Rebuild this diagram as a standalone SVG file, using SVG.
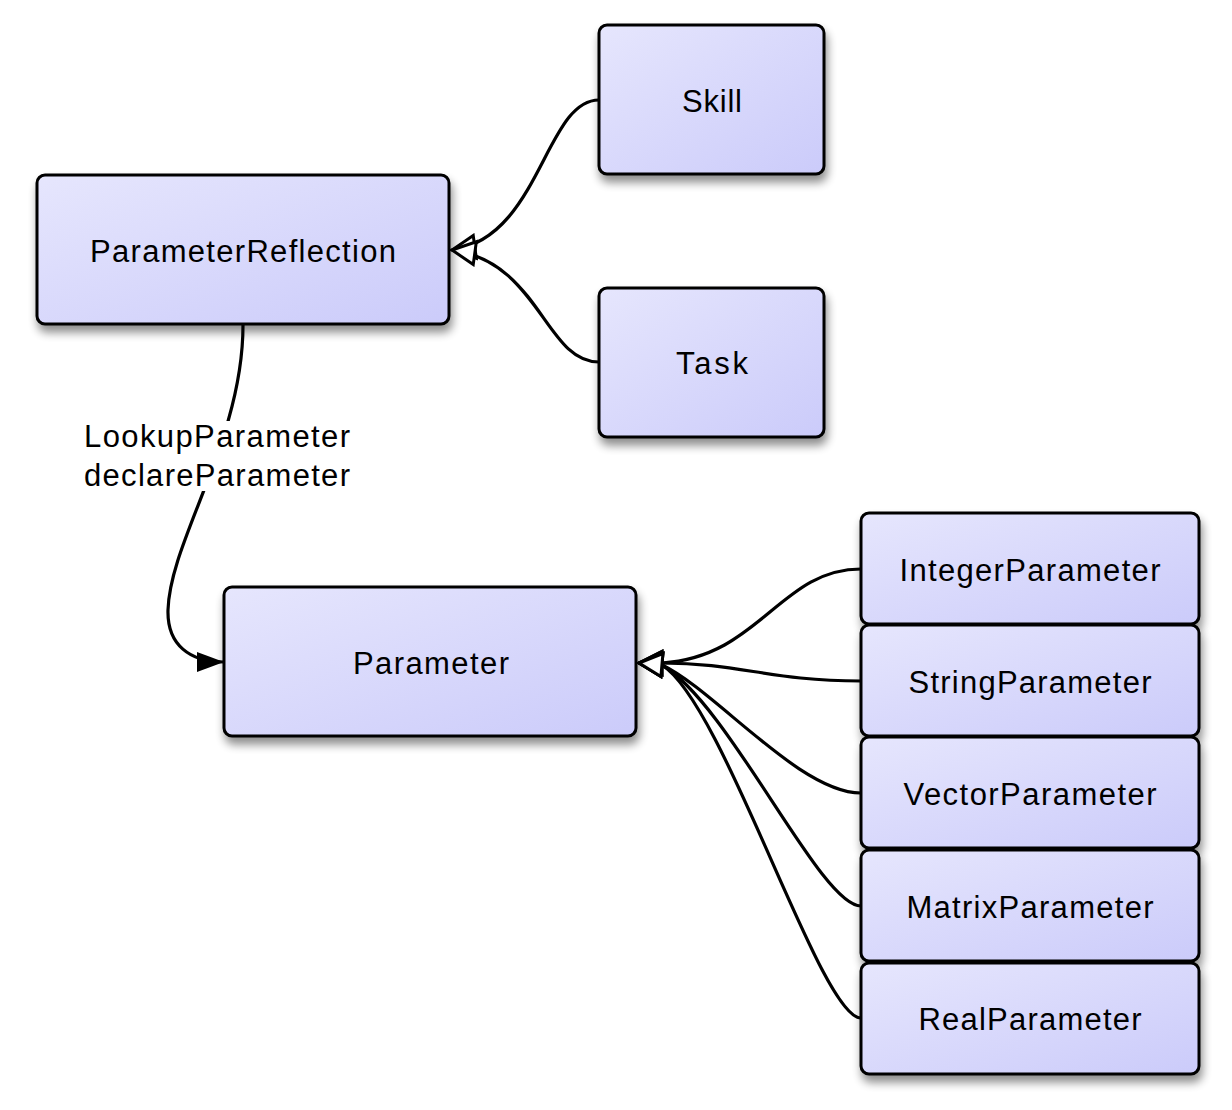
<svg xmlns="http://www.w3.org/2000/svg" width="1232" height="1110" viewBox="0 0 1232 1110">
<defs>
<linearGradient id="g" x1="0" y1="0" x2="1" y2="1">
<stop offset="0" stop-color="#e6e6fd"/>
<stop offset="1" stop-color="#cbcbfa"/>
</linearGradient>
<filter id="sh" x="-10%" y="-10%" width="130%" height="140%">
<feGaussianBlur in="SourceAlpha" stdDeviation="5"/>
<feOffset dx="2" dy="7" result="b"/>
<feComponentTransfer><feFuncA type="linear" slope="0.45"/></feComponentTransfer>
<feMerge><feMergeNode/><feMergeNode in="SourceGraphic"/></feMerge>
</filter>
<marker id="hollow" markerUnits="userSpaceOnUse" viewBox="0 0 30 28" markerWidth="30" markerHeight="28" refX="26" refY="14" orient="auto">
<path d="M3,2.5 L26,14 L3,25.5 Z" fill="#fff" stroke="#000" stroke-width="3" stroke-linejoin="miter"/>
</marker>
<marker id="filled" markerUnits="userSpaceOnUse" viewBox="0 0 30 24" markerWidth="30" markerHeight="24" refX="28" refY="12" orient="auto">
<path d="M1,2 L28,12 L1,22 Z" fill="#000"/>
</marker>
</defs>
<style>
.box{fill:url(#g);stroke:#000;stroke-width:3;filter:url(#sh)}
.t{font-family:"Liberation Sans",Arial,sans-serif;font-size:31px;fill:#000;text-anchor:middle}
.lbl{font-family:"Liberation Sans",Arial,sans-serif;font-size:31px;fill:#000}
.e{fill:none;stroke:#000;stroke-width:3.2}
</style>
<rect width="1232" height="1110" fill="#fff"/>
<g id="connectors">
<path class="e" d="M599,100 C545,100 540,238 452,250" marker-end="url(#hollow)"/>
<path class="e" d="M599,362 C545,362 540,262 452,250" marker-end="url(#hollow)"/>
<path class="e" d="M243,325 C243,440 170,540 168,610 C167,645 190,662 224,662" marker-end="url(#filled)"/>
<path class="e" d="M861,569 C780,569 760,657 662,663 L639,663" marker-end="url(#hollow)"/>
<path class="e" d="M861,681 C770,681 740,663 662,663 L639,663" marker-end="url(#hollow)"/>
<path class="e" d="M861,793 C800,793 715,690 662,665 L639,663" marker-end="url(#hollow)"/>
<path class="e" d="M861,906 C820,906 730,705 662,665 L639,663" marker-end="url(#hollow)"/>
<path class="e" d="M861,1018 C820,1018 725,705 662,665 L639,663" marker-end="url(#hollow)"/>
</g>
<g id="edge-label">
<rect x="82" y="421" width="272" height="70" fill="#fff"/>
<text class="lbl" x="84" y="447" textLength="266" lengthAdjust="spacing">LookupParameter</text>
<text class="lbl" x="84" y="486" textLength="266" lengthAdjust="spacing">declareParameter</text>
</g>
<g id="ParameterReflection">
<rect class="box" x="37" y="175" width="412" height="149" rx="8"/>
<text class="t" x="243" y="262" textLength="306" lengthAdjust="spacing">ParameterReflection</text>
</g>
<g id="Skill">
<rect class="box" x="599" y="25" width="225" height="149" rx="8"/>
<text class="t" x="712" y="112" textLength="60" lengthAdjust="spacing">Skill</text>
</g>
<g id="Task">
<rect class="box" x="599" y="288" width="225" height="149" rx="8"/>
<text class="t" x="712" y="374" textLength="72" lengthAdjust="spacing">Task</text>
</g>
<g id="Parameter">
<rect class="box" x="224" y="587" width="412" height="149" rx="8"/>
<text class="t" x="431" y="674" textLength="156" lengthAdjust="spacing">Parameter</text>
</g>
<g id="IntegerParameter">
<rect class="box" x="861" y="513" width="338" height="111" rx="8"/>
<text class="t" x="1030" y="581" textLength="261" lengthAdjust="spacing">IntegerParameter</text>
</g>
<g id="StringParameter">
<rect class="box" x="861" y="625" width="338" height="111" rx="8"/>
<text class="t" x="1030" y="693" textLength="243" lengthAdjust="spacing">StringParameter</text>
</g>
<g id="VectorParameter">
<rect class="box" x="861" y="737" width="338" height="111" rx="8"/>
<text class="t" x="1030" y="805" textLength="253" lengthAdjust="spacing">VectorParameter</text>
</g>
<g id="MatrixParameter">
<rect class="box" x="861" y="850" width="338" height="111" rx="8"/>
<text class="t" x="1030" y="918" textLength="247" lengthAdjust="spacing">MatrixParameter</text>
</g>
<g id="RealParameter">
<rect class="box" x="861" y="963" width="338" height="111" rx="8"/>
<text class="t" x="1030" y="1030" textLength="223" lengthAdjust="spacing">RealParameter</text>
</g>
</svg>
